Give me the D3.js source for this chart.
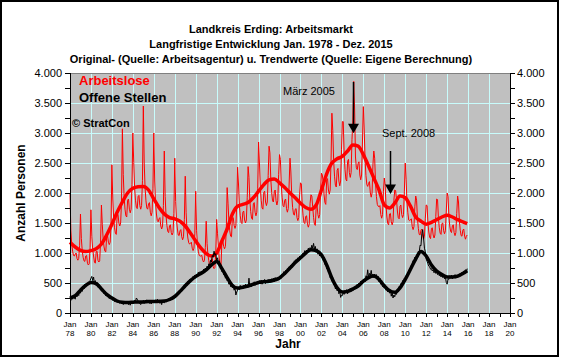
<!DOCTYPE html>
<html><head><meta charset="utf-8">
<script src="https://cdn.jsdelivr.net/npm/d3@7"></script>
<style>
html,body{margin:0;padding:0;background:#fff;}
svg{display:block;}
text{font-family:Arial,"Liberation Sans",sans-serif;}
</style></head>
<body>
<svg id="chart" width="561" height="358"></svg>
<script>
// ---------- DATA ----------
const titleLines = ["Landkreis Erding: Arbeitsmarkt","Langfristige Entwicklung Jan. 1978 - Dez. 2015","Original- (Quelle: Arbeitsagentur) u. Trendwerte (Quelle: Eigene Berechnung)"];
const firstYear = 1978;
const yTicks = [0,500,1000,1500,2000,2500,3000,3500,4000];
const xTickYears = [1978,1980,1982,1984,1986,1988,1990,1992,1994,1996,1998,2000,2002,2004,2006,2008,2010,2012,2014,2016,2018,2020];
const xTickLabels = ["78","80","82","84","86","88","90","92","94","96","98","00","02","04","06","08","10","12","14","16","18","20"];

// Arbeitslose, monthly Jan..Dec per year 1978-2015
const arbeitslose = [
[2000,1370,1140,1030,960,950,980,1000,910,880,910,1120],
[1650,1240,1040,930,870,860,950,960,830,800,820,1090],
[1720,1270,1060,950,850,830,1020,1030,880,850,870,1170],
[1800,1470,1230,1100,1030,1020,1280,1290,1180,1140,1180,1460],
[2470,1900,1580,1420,1330,1310,1620,1640,1500,1450,1500,1850],
[3070,2310,1930,1730,1620,1600,1880,1900,1730,1670,1730,2140],
[3000,2510,2090,1880,1760,1740,1940,1960,1790,1730,1790,2210],
[3450,2500,2080,1870,1750,1730,1820,1840,1680,1620,1680,2070],
[3000,2200,1830,1650,1540,1520,1570,1590,1450,1400,1450,1790],
[2700,1940,1620,1460,1360,1340,1450,1470,1340,1300,1340,1660],
[2580,1860,1550,1400,1300,1290,1370,1390,1270,1220,1270,1560],
[2280,1670,1390,1250,1170,1150,1160,1180,1080,1040,1080,1330],
[2030,1370,1140,1030,960,950,950,960,880,850,880,1090],
[1530,1160,970,870,780,760,900,910,770,740,760,1020],
[1560,1320,1100,900,820,800,1200,1210,1110,1070,1110,1370],
[2090,1830,1530,1370,1280,1270,1580,1590,1460,1410,1460,1800],
[2430,2150,1800,1620,1510,1490,1680,1700,1550,1500,1550,1920],
[2440,2260,1880,1690,1580,1560,1820,1840,1680,1620,1680,2070],
[2850,2500,2090,1880,1750,1730,2010,2030,1850,1790,1850,2290],
[2780,2670,2230,2010,1870,1850,2020,2050,1870,1800,1870,2310],
[2640,2560,2130,1920,1790,1770,1880,1900,1740,1680,1740,2150],
[2580,2350,1960,1760,1650,1630,1730,1740,1590,1540,1590,1970],
[2170,2150,1800,1620,1510,1490,1610,1620,1480,1430,1480,1830],
[1970,1950,1770,1590,1480,1460,1770,1790,1640,1580,1640,2020],
[2330,2300,2190,1970,1840,1810,2220,2240,2050,1980,2050,2530],
[3330,3040,2540,2280,2130,2100,2380,2410,2200,2120,2200,2720],
[3190,3190,2660,2390,2230,2200,2530,2560,2340,2260,2340,2890],
[3200,3860,3400,2600,2420,2390,2490,2520,2300,2220,2300,2850],
[3440,3050,2550,2290,2140,2110,2160,2190,2000,1930,2000,2470],
[2700,2580,2150,1940,1810,1780,1770,1790,1640,1580,1640,2020],
[2250,2130,1780,1600,1490,1470,1650,1660,1520,1470,1520,1880],
[2050,2040,1890,1700,1590,1570,1780,1800,1640,1590,1640,2030],
[2500,2220,1850,1670,1550,1540,1550,1570,1440,1390,1440,1770],
[1950,1880,1570,1410,1310,1300,1380,1400,1280,1230,1280,1580],
[1800,1790,1500,1350,1260,1240,1410,1420,1300,1250,1300,1610],
[1900,1890,1580,1420,1330,1310,1490,1500,1370,1320,1370,1700],
[2000,1940,1620,1450,1360,1340,1450,1470,1340,1290,1340,1660],
[1950,1850,1540,1380,1290,1280,1380,1400,1280,1230,1280,1300]
];

// Offene Stellen, monthly Jan..Dec per year 1978-2015
const offeneStellen = [
[260,210,280,230,300,250,230,320,270,330,290,380],
[330,390,360,440,400,480,430,500,460,520,480,540],
[580,610,540,600,490,540,460,510,430,480,400,440],
[430,360,400,320,360,290,330,270,300,240,280,230],
[260,210,240,190,230,180,210,170,200,160,190,150],
[190,140,180,150,200,160,190,140,170,130,180,160],
[200,160,210,190,250,230,200,170,160,140,180,170],
[210,160,200,170,220,180,210,160,190,150,200,170],
[210,170,220,180,230,190,200,160,190,140,210,180],
[170,200,180,230,210,240,200,220,230,250,260,280],
[250,290,270,330,310,370,340,390,370,430,410,470],
[430,490,460,530,500,560,520,580,550,610,570,630],
[580,640,600,680,620,690,650,700,660,730,690,750],
[700,780,740,820,790,880,850,960,930,1030,960,990],
[870,920,830,870,770,800,690,740,640,690,580,620],
[540,590,480,540,440,500,420,470,380,420,300,350],
[380,430,390,460,410,450,400,460,420,480,430,470],
[430,580,440,490,440,500,450,520,460,500,470,530],
[480,540,490,550,480,540,500,560,490,550,510,560],
[500,560,510,570,520,580,520,590,530,580,540,600],
[560,610,580,650,620,690,640,710,670,740,700,770],
[730,800,760,830,800,870,830,890,850,920,880,950],
[900,970,930,1000,960,1040,980,1050,1000,1080,1030,1090],
[1050,1130,1080,1160,1060,1110,1010,1070,980,1030,950,1000],
[930,980,880,930,810,860,740,800,680,720,590,640],
[530,590,470,520,400,450,370,420,320,370,260,300],
[290,350,310,380,330,390,320,390,350,410,360,420],
[370,430,390,450,410,480,430,500,460,530,480,550],
[500,560,520,620,600,720,590,660,620,710,600,650],
[590,650,600,640,560,610,520,580,480,540,440,490],
[420,470,380,430,350,410,330,390,280,340,250,300],
[270,340,310,390,360,440,400,490,460,540,500,580],
[540,620,590,680,650,750,700,800,760,870,830,930],
[880,970,940,1030,1010,1130,1120,1320,1390,1250,1080,1020],
[900,860,820,780,770,730,740,700,720,670,700,660],
[680,640,690,620,660,600,650,590,630,570,600,510],
[480,570,560,620,580,630,570,620,590,640,580,630],
[590,640,610,660,620,680,640,700,650,720,680,740]
];

// Trend values, half-yearly from Jan 1978 (Jan, Jul, ...) plus Dec 2015
const trendArbeitslose = [
1180,1100, 1045,1025, 1040,1070, 1150,1300, 1480,1680, 1850,2000, 2080,2105, 2110,2050,
1900,1760, 1650,1590, 1570,1530, 1450,1330, 1200,1080, 990,950, 1000,1200, 1400,1650,
1780,1810, 1840,1920, 2030,2140, 2220,2235, 2170,2090, 2000,1920, 1830,1760, 1730,1800,
2050,2320, 2500,2570, 2610,2700, 2800,2780, 2640,2450, 2250,2050, 1800,1750, 1830,1950,
1920,1780, 1600,1530, 1480,1510, 1555,1600, 1630,1600, 1555,1520, 1490];
const trendOffeneStellen = [
250,290, 380,460, 510,490, 400,310, 250,200, 180,175, 180,185, 185,190,
190,195, 200,225, 275,360, 455,540, 610,660, 720,800, 860,740, 590,460,
415,430, 450,480, 510,520, 530,550, 585,660, 750,840, 920,1000, 1055,1040,
970,800, 580,420, 350,360, 400,450, 530,590, 615,560, 450,370, 345,420,
560,730, 900,1025, 950,800, 700,640, 600,600, 615,660, 705];

const annotations = [
  {label:"März 2005", date:2005.01, textDate:1998.33, textValue:3640, from:3850, to:2995},
  {label:"Sept. 2008", date:2008.55, textDate:2007.78, textValue:2928, from:2700, to:1983}
];

// ---------- CHART ----------
const svg = d3.select("#chart");
const W = 561, H = 358;
const x = d3.scaleLinear().domain([1978, 2020]).range([70, 510]);
const y = d3.scaleLinear().domain([0, 4000]).range([313, 73]);
const fmt = d3.formatLocale({decimal:",", thousands:".", grouping:[3], currency:["","€"]}).format(",.0f");

// outer frame
svg.append("rect").attr("x",0).attr("y",0).attr("width",W).attr("height",H).attr("fill","#fff");
svg.append("rect").attr("x",1).attr("y",1).attr("width",557).attr("height",355)
  .attr("fill","none").attr("stroke","#000").attr("stroke-width",2);

// titles
const tY = [33, 48, 63];
titleLines.forEach((t,i)=>{
  svg.append("text").attr("x",271).attr("y",tY[i]).attr("text-anchor","middle")
    .attr("font-size","11px").attr("font-weight","bold").text(t);
});

// plot background
svg.append("rect").attr("x",x(1978)).attr("y",y(4000)).attr("width",x(2020)-x(1978)).attr("height",y(0)-y(4000))
  .attr("fill","#c0c0c0");

// grid
const grid = svg.append("g").attr("shape-rendering","crispEdges");
grid.selectAll("line.v").data(xTickYears.filter(d=>d>1978 && d<2020)).join("line")
  .attr("x1",d=>Math.round(x(d))+0.5).attr("x2",d=>Math.round(x(d))+0.5)
  .attr("y1",y(4000)).attr("y2",y(0)).attr("stroke","#c8fcfc").attr("stroke-width",1);
grid.selectAll("line.h").data(yTicks.filter(d=>d>0 && d<4000)).join("line")
  .attr("y1",d=>Math.round(y(d))+0.5).attr("y2",d=>Math.round(y(d))+0.5)
  .attr("x1",x(1978)).attr("x2",x(2020)).attr("stroke","#c8fcfc").attr("stroke-width",1);
grid.append("line").attr("x1",x(1978)).attr("x2",x(2020)).attr("y1",y(4000)+0.5).attr("y2",y(4000)+0.5)
  .attr("stroke","#808080");

// series data
const monthly = arr => arr.flatMap((row,i)=>row.map((v,m)=>({t:firstYear+i+m/12, v})));
const trendPts = arr => arr.map((v,i)=>({t:Math.min(firstYear+i*0.5, 2015+11/12), v}));

const thinLine = d3.line().x(d=>x(d.t)).y(d=>y(d.v));
const trendLine = d3.line().x(d=>x(d.t)).y(d=>y(d.v)).curve(d3.curveMonotoneX);

svg.append("path").datum(monthly(arbeitslose)).attr("d",thinLine)
  .attr("fill","none").attr("stroke","#ff0000").attr("stroke-width",1);
svg.append("path").datum(trendPts(trendArbeitslose)).attr("d",trendLine)
  .attr("fill","none").attr("stroke","#ff0000").attr("stroke-width",3.5);
svg.append("path").datum(monthly(offeneStellen)).attr("d",thinLine)
  .attr("fill","none").attr("stroke","#000").attr("stroke-width",1);
svg.append("path").datum(trendPts(trendOffeneStellen)).attr("d",trendLine)
  .attr("fill","none").attr("stroke","#000").attr("stroke-width",3.5);

// axes
const yTickAll = d3.range(0, 4001, 250);
const axL = svg.append("g").attr("transform",`translate(${x(1978)},0)`)
  .call(d3.axisLeft(y).tickValues(yTickAll).tickSize(5).tickPadding(3)
    .tickFormat(d=> d%500===0 ? fmt(d) : ""));
const axR = svg.append("g").attr("transform",`translate(${x(2020)},0)`)
  .call(d3.axisRight(y).tickValues(yTickAll).tickSize(5).tickPadding(2)
    .tickFormat(d=> d%500===0 ? fmt(d) : ""));
const axB = svg.append("g").attr("transform",`translate(0,${y(0)})`)
  .call(d3.axisBottom(x).tickValues(d3.range(1978,2021,1)).tickSize(4).tickFormat(""));
[axL,axR,axB].forEach(a=>{
  a.select(".domain").attr("stroke","#000").attr("shape-rendering","crispEdges");
  a.selectAll(".tick line").attr("stroke","#000").attr("shape-rendering","crispEdges");
  a.selectAll("text").attr("font-family","Arial, 'Liberation Sans', sans-serif").attr("font-size","11px").attr("fill","#000");
});

// x tick labels
const xl = svg.append("g");
xTickYears.forEach((yr,i)=>{
  xl.append("text").attr("x",x(yr)).attr("y",327).attr("text-anchor","middle")
    .attr("font-size","8px").text("Jan");
  xl.append("text").attr("x",x(yr)).attr("y",336).attr("text-anchor","middle")
    .attr("font-size","8px").text(xTickLabels[i]);
});

// axis titles
svg.append("text").attr("x",288).attr("y",348).attr("text-anchor","middle")
  .attr("font-size","12px").attr("font-weight","bold").text("Jahr");
svg.append("text").attr("transform",`translate(25,${(y(0)+y(4000))/2}) rotate(-90)`)
  .attr("text-anchor","middle").attr("font-size","12px").attr("font-weight","bold").text("Anzahl Personen");

// legend
svg.append("text").attr("x",79).attr("y",85).attr("font-size","13px").attr("font-weight","bold")
  .attr("fill","#ff0000").text("Arbeitslose");
svg.append("text").attr("x",79).attr("y",102).attr("font-size","13px").attr("font-weight","bold")
  .attr("fill","#000").text("Offene Stellen");
svg.append("text").attr("x",72).attr("y",127).attr("font-size","11px").attr("font-weight","bold")
  .attr("fill","#000").text("© StratCon");

// annotations
annotations.forEach(a=>{
  svg.append("text").attr("x",x(a.textDate)).attr("y",y(a.textValue)).attr("font-size","11px").text(a.label);
  const ax = Math.round(x(a.date))+0.5;
  svg.append("line").attr("x1",ax).attr("x2",ax).attr("y1",y(a.from)).attr("y2",y(a.to)-8)
    .attr("stroke","#000").attr("stroke-width",1.5);
  const ty = y(a.to);
  svg.append("path").attr("d",`M${ax-5.5},${ty-9.5}L${ax+5.5},${ty-9.5}L${ax},${ty}Z`).attr("fill","#000");
});
</script>
</body></html>
